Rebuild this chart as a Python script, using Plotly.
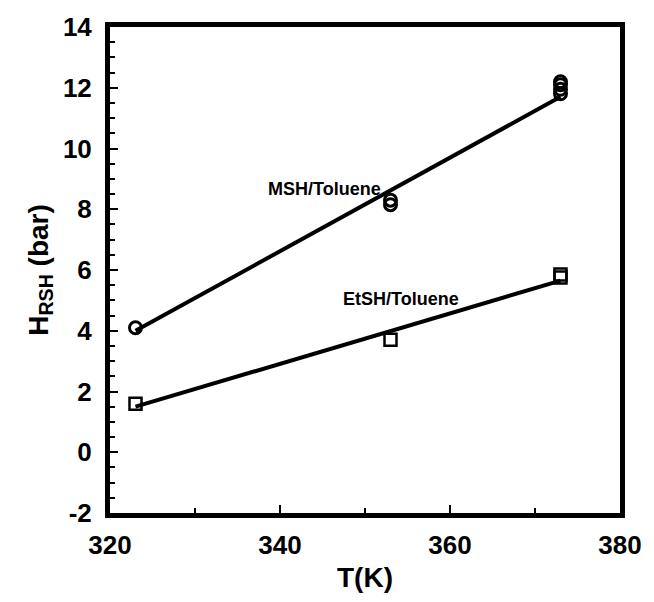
import plotly.graph_objects as go

# Data
msh_T = [323, 353, 353, 373, 373, 373, 373]
msh_H = [4.1, 8.15, 8.3, 11.8, 11.95, 12.1, 12.2]
etsh_T = [323, 353, 373, 373]
etsh_H = [1.6, 3.7, 5.85, 5.75]
msh_fit_T = [323, 373]
msh_fit_H = [4.0, 11.7]
etsh_fit_T = [323, 373]
etsh_fit_H = [1.5, 5.65]
x_ticks = [320, 340, 360, 380]
y_ticks = [-2, 0, 2, 4, 6, 8, 10, 12, 14]
y_ticklabels = ["-2", "0", "2", "4", "6", "8", "10", "12", "14"]

font_family = "Liberation Sans, Arial, sans-serif"

fig = go.Figure()
fig.add_trace(go.Scatter(x=msh_fit_T, y=msh_fit_H, mode="lines",
                         line=dict(color="black", width=4), showlegend=False))
fig.add_trace(go.Scatter(x=etsh_fit_T, y=etsh_fit_H, mode="lines",
                         line=dict(color="black", width=4), showlegend=False))
fig.add_trace(go.Scatter(x=msh_T, y=msh_H, mode="markers",
                         marker=dict(symbol="circle-open", size=12, color="black",
                                     line=dict(width=3)), showlegend=False))
fig.add_trace(go.Scatter(x=etsh_T, y=etsh_H, mode="markers",
                         marker=dict(symbol="square-open", size=12, color="black",
                                     line=dict(width=2.5)), showlegend=False))

ann_font = dict(family=font_family, size=18, color="black", weight="bold")
fig.add_annotation(x=345.2, y=8.67, text="MSH/Toluene", showarrow=False, font=ann_font)
fig.add_annotation(x=354.2, y=5.06, text="EtSH/Toluene", showarrow=False, font=ann_font)

tick_font = dict(family=font_family, size=26, color="black", weight="bold")
title_font = dict(family=font_family, size=28, color="black", weight="bold")

axis_common = dict(showgrid=False, zeroline=False, showline=True, linecolor="black",
                   linewidth=5, mirror=True, ticks="inside", tickcolor="black",
                   tickwidth=2, ticklen=8, tickfont=tick_font)

fig.update_xaxes(range=[320, 380], tickvals=x_ticks,
                 minor=dict(dtick=10, ticks="inside", ticklen=5, tickcolor="black", tickwidth=1.5),
                 title=dict(text="T(K)", font=title_font, standoff=10),
                 ticklabelstandoff=5, **axis_common)
fig.update_yaxes(range=[-2, 14], tickvals=y_ticks, ticktext=y_ticklabels,
                 minor=dict(dtick=0.5, ticks="inside", ticklen=5, tickcolor="black", tickwidth=1.5),
                 title=dict(text="H<sub>RSH</sub> (bar)", font=title_font, standoff=8),
                 ticklabelstandoff=8, **axis_common)

fig.update_layout(width=654, height=602, margin=dict(l=110, r=25, t=25, b=80),
                  plot_bgcolor="white", paper_bgcolor="white")

fig.write_html("out.html")
